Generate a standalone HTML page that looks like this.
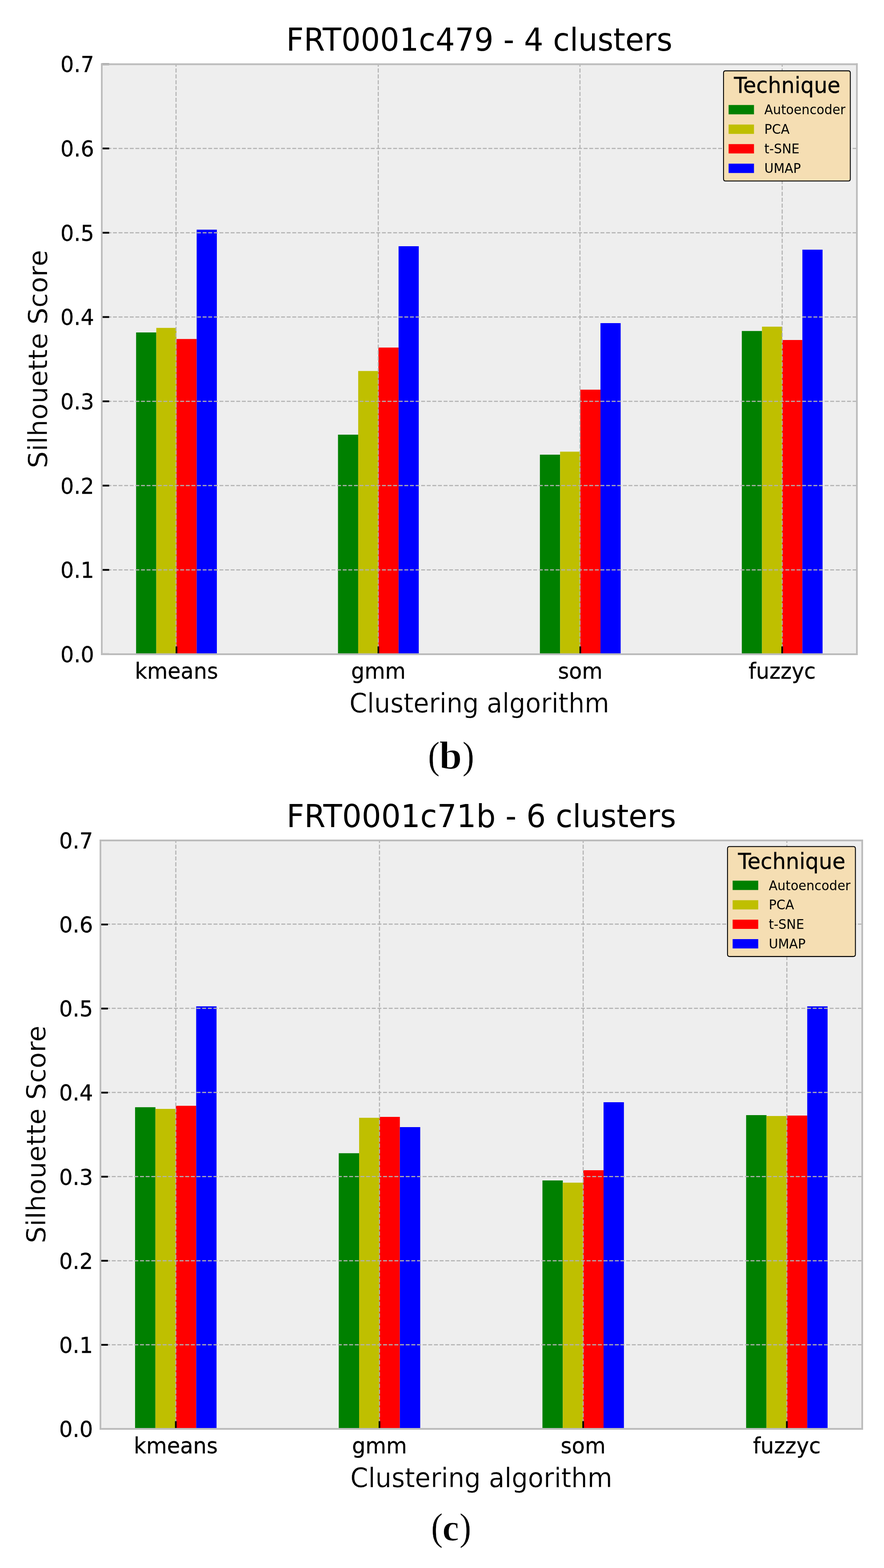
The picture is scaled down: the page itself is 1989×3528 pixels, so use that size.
<!DOCTYPE html>
<html lang="en">
<head>
<meta charset="utf-8">
<title>Silhouette Score by clustering algorithm</title>
<style>
html,body{margin:0;padding:0;background:#ffffff;}
body{width:1989px;height:3528px;overflow:hidden;}
svg{display:block;}
svg text{font-family:"DejaVu Sans","Liberation Sans",sans-serif;fill:#000000;}
svg text.al{stroke:#ffffff;stroke-width:0.4px;}
svg text.tk{stroke:#000000;stroke-width:0.35px;}
svg text.cap{font-family:"Liberation Serif","DejaVu Serif",serif;}
</style>
</head>
<body>
<svg width="1989" height="3528" viewBox="0 0 1989 3528">
<rect x="0" y="0" width="1989" height="3528" fill="#ffffff"/>
<g transform="translate(-45.032 -62.483) scale(4.75750 4.98850)">
<path d="M 57.6 307.584 L 414.72 307.584 L 414.72 41.472 L 57.6 41.472 z" fill="#eeeeee"/>
<path d="M 73.833 307.584 L 83.381 307.584 L 83.381 162.477 L 73.833 162.477 z" fill="#008000"/>
<path d="M 169.319 307.584 L 178.868 307.584 L 178.868 208.59 L 169.319 208.59 z" fill="#008000"/>
<path d="M 264.806 307.584 L 274.355 307.584 L 274.355 217.6 L 264.806 217.6 z" fill="#008000"/>
<path d="M 360.293 307.584 L 369.841 307.584 L 369.841 161.831 L 360.293 161.831 z" fill="#008000"/>
<path d="M 83.381 307.584 L 92.93 307.584 L 92.93 160.424 L 83.381 160.424 z" fill="#bfbf00"/>
<path d="M 178.868 307.584 L 188.417 307.584 L 188.417 179.85 L 178.868 179.85 z" fill="#bfbf00"/>
<path d="M 274.355 307.584 L 283.903 307.584 L 283.903 216.232 L 274.355 216.232 z" fill="#bfbf00"/>
<path d="M 369.841 307.584 L 379.39 307.584 L 379.39 159.854 L 369.841 159.854 z" fill="#bfbf00"/>
<path d="M 92.93 307.584 L 102.479 307.584 L 102.479 165.442 L 92.93 165.442 z" fill="#ff0000"/>
<path d="M 188.417 307.584 L 197.965 307.584 L 197.965 169.282 L 188.417 169.282 z" fill="#ff0000"/>
<path d="M 283.903 307.584 L 293.452 307.584 L 293.452 188.29 L 283.903 188.29 z" fill="#ff0000"/>
<path d="M 379.39 307.584 L 388.939 307.584 L 388.939 165.86 L 379.39 165.86 z" fill="#ff0000"/>
<path d="M 102.479 307.584 L 112.027 307.584 L 112.027 116.135 L 102.479 116.135 z" fill="#0000ff"/>
<path d="M 197.965 307.584 L 207.514 307.584 L 207.514 123.587 L 197.965 123.587 z" fill="#0000ff"/>
<path d="M 293.452 307.584 L 303.001 307.584 L 303.001 158.257 L 293.452 158.257 z" fill="#0000ff"/>
<path d="M 388.939 307.584 L 398.487 307.584 L 398.487 125.145 L 388.939 125.145 z" fill="#0000ff"/>
<path d="M 92.93 307.584 L 92.93 41.472" fill="none" stroke="#b2b2b2" stroke-width="0.5" stroke-dasharray="1.85,0.8" transform="translate(-0.21 0)"/>
<path d="M 0 0 L 0 -3.5" fill="#000000" stroke="#000000" stroke-width="0.8" transform="translate(92.93 307.584)"/>
<path d="M 188.417 307.584 L 188.417 41.472" fill="none" stroke="#b2b2b2" stroke-width="0.5" stroke-dasharray="1.85,0.8" transform="translate(-0.063 0)"/>
<path d="M 0 0 L 0 -3.5" fill="#000000" stroke="#000000" stroke-width="0.8" transform="translate(188.417 307.584)"/>
<path d="M 283.903 307.584 L 283.903 41.472" fill="none" stroke="#b2b2b2" stroke-width="0.5" stroke-dasharray="1.85,0.8" transform="translate(-0.147 0)"/>
<path d="M 0 0 L 0 -3.5" fill="#000000" stroke="#000000" stroke-width="0.8" transform="translate(283.903 307.584)"/>
<path d="M 379.39 307.584 L 379.39 41.472" fill="none" stroke="#b2b2b2" stroke-width="0.5" stroke-dasharray="1.85,0.8"/>
<path d="M 0 0 L 0 -3.5" fill="#000000" stroke="#000000" stroke-width="0.8" transform="translate(379.39 307.584)"/>
<path d="M 57.6 307.584 L 414.72 307.584" fill="none" stroke="#b2b2b2" stroke-width="0.5" stroke-dasharray="1.85,0.8"/>
<path d="M 0 0 L 3.5 0" fill="#000000" stroke="#000000" stroke-width="0.8" transform="translate(57.6 307.584)"/>
<path d="M 57.6 269.568 L 414.72 269.568" fill="none" stroke="#b2b2b2" stroke-width="0.5" stroke-dasharray="1.85,0.8"/>
<path d="M 0 0 L 3.5 0" fill="#000000" stroke="#000000" stroke-width="0.8" transform="translate(57.6 269.568)"/>
<path d="M 57.6 231.552 L 414.72 231.552" fill="none" stroke="#b2b2b2" stroke-width="0.5" stroke-dasharray="1.85,0.8"/>
<path d="M 0 0 L 3.5 0" fill="#000000" stroke="#000000" stroke-width="0.8" transform="translate(57.6 231.552)"/>
<path d="M 57.6 193.536 L 414.72 193.536" fill="none" stroke="#b2b2b2" stroke-width="0.5" stroke-dasharray="1.85,0.8"/>
<path d="M 0 0 L 3.5 0" fill="#000000" stroke="#000000" stroke-width="0.8" transform="translate(57.6 193.536)"/>
<path d="M 57.6 155.52 L 414.72 155.52" fill="none" stroke="#b2b2b2" stroke-width="0.5" stroke-dasharray="1.85,0.8"/>
<path d="M 0 0 L 3.5 0" fill="#000000" stroke="#000000" stroke-width="0.8" transform="translate(57.6 155.52)"/>
<path d="M 57.6 117.504 L 414.72 117.504" fill="none" stroke="#b2b2b2" stroke-width="0.5" stroke-dasharray="1.85,0.8"/>
<path d="M 0 0 L 3.5 0" fill="#000000" stroke="#000000" stroke-width="0.8" transform="translate(57.6 117.504)"/>
<path d="M 57.6 79.488 L 414.72 79.488" fill="none" stroke="#b2b2b2" stroke-width="0.5" stroke-dasharray="1.85,0.8"/>
<path d="M 0 0 L 3.5 0" fill="#000000" stroke="#000000" stroke-width="0.8" transform="translate(57.6 79.488)"/>
<path d="M 57.6 41.472 L 414.72 41.472" fill="none" stroke="#b2b2b2" stroke-width="0.5" stroke-dasharray="1.85,0.8"/>
<path d="M 0 0 L 3.5 0" fill="#000000" stroke="#000000" stroke-width="0.8" transform="translate(57.6 41.472)"/>
<path d="M 57.6 307.584 L 57.6 41.472" fill="none" stroke="#bcbcbc" stroke-width="0.8" stroke-linecap="square" stroke-linejoin="miter"/>
<path d="M 414.72 307.584 L 414.72 41.472" fill="none" stroke="#bcbcbc" stroke-width="0.8" stroke-linecap="square" stroke-linejoin="miter"/>
<path d="M 57.6 307.584 L 414.72 307.584" fill="none" stroke="#bcbcbc" stroke-width="0.8" stroke-linecap="square" stroke-linejoin="miter"/>
<path d="M 57.6 41.472 L 414.72 41.472" fill="none" stroke="#bcbcbc" stroke-width="0.8" stroke-linecap="square" stroke-linejoin="miter"/>
<path d="M 352.717 94.178 L 410.76 94.178 Q 411.72 94.178 411.72 93.218 L 411.72 45.432 Q 411.72 44.472 410.76 44.472 L 352.717 44.472 Q 351.757 44.472 351.757 45.432 L 351.757 93.218 Q 351.757 94.178 352.717 94.178 z" fill="#f5deb3" stroke="#000000" stroke-width="0.42" stroke-linejoin="miter" transform="translate(-0.105 0)"/>
<path d="M 354.158 64.109 L 366.158 64.109 L 366.158 59.909 L 354.158 59.909 z" fill="#008000" transform="translate(-0.105 0)"/>
<path d="M 354.158 72.916 L 366.158 72.916 L 366.158 68.716 L 354.158 68.716 z" fill="#bfbf00" transform="translate(-0.105 0)"/>
<path d="M 354.158 81.723 L 366.158 81.723 L 366.158 77.523 L 354.158 77.523 z" fill="#ff0000" transform="translate(-0.105 0)"/>
<path d="M 354.158 90.53 L 366.158 90.53 L 366.158 86.33 L 354.158 86.33 z" fill="#0000ff" transform="translate(-0.105 0)"/>
</g>
<text transform="translate(397.083 1527.265) scale(1 1.0486)" font-size="47.575" text-anchor="middle" class="tk">kmeans</text>
<text transform="translate(851.361 1527.265) scale(1 1.0486)" font-size="47.575" text-anchor="middle" class="tk">gmm</text>
<text transform="translate(1305.639 1527.265) scale(1 1.0486)" font-size="47.575" text-anchor="middle" class="tk">som</text>
<text transform="translate(1759.917 1527.265) scale(1 1.0486)" font-size="47.575" text-anchor="middle" class="tk">fuzzyc</text>
<text transform="translate(1078.5 1603.079) scale(1 1.0486)" font-size="57.09" text-anchor="middle" class="al">Clustering algorithm</text>
<text transform="translate(211.649 1489.852) scale(1 1.0486)" font-size="47.575" text-anchor="end" class="tk">0.0</text>
<text transform="translate(211.649 1300.21) scale(1 1.0486)" font-size="47.575" text-anchor="end" class="tk">0.1</text>
<text transform="translate(211.649 1110.567) scale(1 1.0486)" font-size="47.575" text-anchor="end" class="tk">0.2</text>
<text transform="translate(211.649 920.924) scale(1 1.0486)" font-size="47.575" text-anchor="end" class="tk">0.3</text>
<text transform="translate(211.649 731.281) scale(1 1.0486)" font-size="47.575" text-anchor="end" class="tk">0.4</text>
<text transform="translate(211.649 541.638) scale(1 1.0486)" font-size="47.575" text-anchor="end" class="tk">0.5</text>
<text transform="translate(211.649 351.995) scale(1 1.0486)" font-size="47.575" text-anchor="end" class="tk">0.6</text>
<text transform="translate(211.649 162.352) scale(1 1.0486)" font-size="47.575" text-anchor="end" class="tk">0.7</text>
<text transform="translate(106.187 808) scale(1 1.0320) rotate(-90)" font-size="58.003" text-anchor="middle" class="al">Silhouette Score</text>
<text transform="translate(1078.5 114.469) scale(1 1.0486)" font-size="68.508" text-anchor="middle">FRT0001c479 - 4 clusters</text>
<text transform="translate(1651.318 209.243) scale(1 1.0486)" font-size="47.575" class="tk">Technique</text>
<text transform="translate(1719.8 257.326) scale(1 1.0486)" font-size="28.545">Autoencoder</text>
<text transform="translate(1719.8 301.259) scale(1 1.0486)" font-size="28.545">PCA</text>
<text transform="translate(1719.8 345.192) scale(1 1.0486)" font-size="28.545">t-SNE</text>
<text transform="translate(1719.8 389.125) scale(1 1.0486)" font-size="28.545">UMAP</text>
<g transform="translate(-50.452 1684.662) scale(4.79951 4.97535)">
<path d="M 57.6 307.584 L 414.72 307.584 L 414.72 41.472 L 57.6 41.472 z" fill="#eeeeee"/>
<path d="M 73.833 307.584 L 83.381 307.584 L 83.381 162.097 L 73.833 162.097 z" fill="#008000"/>
<path d="M 169.319 307.584 L 178.868 307.584 L 178.868 182.93 L 169.319 182.93 z" fill="#008000"/>
<path d="M 264.806 307.584 L 274.355 307.584 L 274.355 195.247 L 264.806 195.247 z" fill="#008000"/>
<path d="M 360.293 307.584 L 369.841 307.584 L 369.841 165.708 L 360.293 165.708 z" fill="#008000"/>
<path d="M 83.381 307.584 L 92.93 307.584 L 92.93 162.857 L 83.381 162.857 z" fill="#bfbf00"/>
<path d="M 178.868 307.584 L 188.417 307.584 L 188.417 166.887 L 178.868 166.887 z" fill="#bfbf00"/>
<path d="M 274.355 307.584 L 283.903 307.584 L 283.903 196.235 L 274.355 196.235 z" fill="#bfbf00"/>
<path d="M 369.841 307.584 L 379.39 307.584 L 379.39 166.088 L 369.841 166.088 z" fill="#bfbf00"/>
<path d="M 92.93 307.584 L 102.479 307.584 L 102.479 161.45 L 92.93 161.45 z" fill="#ff0000"/>
<path d="M 188.417 307.584 L 197.965 307.584 L 197.965 166.507 L 188.417 166.507 z" fill="#ff0000"/>
<path d="M 283.903 307.584 L 293.452 307.584 L 293.452 190.609 L 283.903 190.609 z" fill="#ff0000"/>
<path d="M 379.39 307.584 L 388.939 307.584 L 388.939 165.898 L 379.39 165.898 z" fill="#ff0000"/>
<path d="M 102.479 307.584 L 112.027 307.584 L 112.027 116.478 L 102.479 116.478 z" fill="#0000ff"/>
<path d="M 197.965 307.584 L 207.514 307.584 L 207.514 171.107 L 197.965 171.107 z" fill="#0000ff"/>
<path d="M 293.452 307.584 L 303.001 307.584 L 303.001 159.854 L 293.452 159.854 z" fill="#0000ff"/>
<path d="M 388.939 307.584 L 398.487 307.584 L 398.487 116.478 L 388.939 116.478 z" fill="#0000ff"/>
<path d="M 92.93 307.584 L 92.93 41.472" fill="none" stroke="#b2b2b2" stroke-width="0.5" stroke-dasharray="1.85,0.8"/>
<path d="M 0 0 L 0 -3.5" fill="#000000" stroke="#000000" stroke-width="0.8" transform="translate(92.93 307.584)"/>
<path d="M 188.417 307.584 L 188.417 41.472" fill="none" stroke="#b2b2b2" stroke-width="0.5" stroke-dasharray="1.85,0.8"/>
<path d="M 0 0 L 0 -3.5" fill="#000000" stroke="#000000" stroke-width="0.8" transform="translate(188.417 307.584)"/>
<path d="M 283.903 307.584 L 283.903 41.472" fill="none" stroke="#b2b2b2" stroke-width="0.5" stroke-dasharray="1.85,0.8"/>
<path d="M 0 0 L 0 -3.5" fill="#000000" stroke="#000000" stroke-width="0.8" transform="translate(283.903 307.584)"/>
<path d="M 379.39 307.584 L 379.39 41.472" fill="none" stroke="#b2b2b2" stroke-width="0.5" stroke-dasharray="1.85,0.8"/>
<path d="M 0 0 L 0 -3.5" fill="#000000" stroke="#000000" stroke-width="0.8" transform="translate(379.39 307.584)"/>
<path d="M 57.6 307.584 L 414.72 307.584" fill="none" stroke="#b2b2b2" stroke-width="0.5" stroke-dasharray="1.85,0.8"/>
<path d="M 0 0 L 3.5 0" fill="#000000" stroke="#000000" stroke-width="0.8" transform="translate(57.6 307.584)"/>
<path d="M 57.6 269.568 L 414.72 269.568" fill="none" stroke="#b2b2b2" stroke-width="0.5" stroke-dasharray="1.85,0.8"/>
<path d="M 0 0 L 3.5 0" fill="#000000" stroke="#000000" stroke-width="0.8" transform="translate(57.6 269.568)"/>
<path d="M 57.6 231.552 L 414.72 231.552" fill="none" stroke="#b2b2b2" stroke-width="0.5" stroke-dasharray="1.85,0.8"/>
<path d="M 0 0 L 3.5 0" fill="#000000" stroke="#000000" stroke-width="0.8" transform="translate(57.6 231.552)"/>
<path d="M 57.6 193.536 L 414.72 193.536" fill="none" stroke="#b2b2b2" stroke-width="0.5" stroke-dasharray="1.85,0.8" transform="translate(0 -0.06)"/>
<path d="M 0 0 L 3.5 0" fill="#000000" stroke="#000000" stroke-width="0.8" transform="translate(57.6 193.536)"/>
<path d="M 57.6 155.52 L 414.72 155.52" fill="none" stroke="#b2b2b2" stroke-width="0.5" stroke-dasharray="1.85,0.8" transform="translate(0 -0.08)"/>
<path d="M 0 0 L 3.5 0" fill="#000000" stroke="#000000" stroke-width="0.8" transform="translate(57.6 155.52)"/>
<path d="M 57.6 117.504 L 414.72 117.504" fill="none" stroke="#b2b2b2" stroke-width="0.5" stroke-dasharray="1.85,0.8" transform="translate(0 -0.1)"/>
<path d="M 0 0 L 3.5 0" fill="#000000" stroke="#000000" stroke-width="0.8" transform="translate(57.6 117.504)"/>
<path d="M 57.6 79.488 L 414.72 79.488" fill="none" stroke="#b2b2b2" stroke-width="0.5" stroke-dasharray="1.85,0.8" transform="translate(0 -0.161)"/>
<path d="M 0 0 L 3.5 0" fill="#000000" stroke="#000000" stroke-width="0.8" transform="translate(57.6 79.488)"/>
<path d="M 57.6 41.472 L 414.72 41.472" fill="none" stroke="#b2b2b2" stroke-width="0.5" stroke-dasharray="1.85,0.8"/>
<path d="M 0 0 L 3.5 0" fill="#000000" stroke="#000000" stroke-width="0.8" transform="translate(57.6 41.472)"/>
<path d="M 57.6 307.584 L 57.6 41.472" fill="none" stroke="#bcbcbc" stroke-width="0.8" stroke-linecap="square" stroke-linejoin="miter"/>
<path d="M 414.72 307.584 L 414.72 41.472" fill="none" stroke="#bcbcbc" stroke-width="0.8" stroke-linecap="square" stroke-linejoin="miter"/>
<path d="M 57.6 307.584 L 414.72 307.584" fill="none" stroke="#bcbcbc" stroke-width="0.8" stroke-linecap="square" stroke-linejoin="miter"/>
<path d="M 57.6 41.472 L 414.72 41.472" fill="none" stroke="#bcbcbc" stroke-width="0.8" stroke-linecap="square" stroke-linejoin="miter"/>
<path d="M 352.717 94.178 L 410.76 94.178 Q 411.72 94.178 411.72 93.218 L 411.72 45.432 Q 411.72 44.472 410.76 44.472 L 352.717 44.472 Q 351.757 44.472 351.757 45.432 L 351.757 93.218 Q 351.757 94.178 352.717 94.178 z" fill="#f5deb3" stroke="#000000" stroke-width="0.42" stroke-linejoin="miter" transform="translate(-0.188 -0.231)"/>
<path d="M 354.158 64.109 L 366.158 64.109 L 366.158 59.909 L 354.158 59.909 z" fill="#008000" transform="translate(-0.188 -0.231)"/>
<path d="M 354.158 72.916 L 366.158 72.916 L 366.158 68.716 L 354.158 68.716 z" fill="#bfbf00" transform="translate(-0.188 -0.231)"/>
<path d="M 354.158 81.723 L 366.158 81.723 L 366.158 77.523 L 354.158 77.523 z" fill="#ff0000" transform="translate(-0.188 -0.231)"/>
<path d="M 354.158 90.53 L 366.158 90.53 L 366.158 86.33 L 354.158 86.33 z" fill="#0000ff" transform="translate(-0.188 -0.231)"/>
</g>
<text transform="translate(395.567 3270.219) scale(1 1.0366)" font-size="47.995" text-anchor="middle" class="tk">kmeans</text>
<text transform="translate(853.856 3270.219) scale(1 1.0366)" font-size="47.995" text-anchor="middle" class="tk">gmm</text>
<text transform="translate(1312.144 3270.219) scale(1 1.0366)" font-size="47.995" text-anchor="middle" class="tk">som</text>
<text transform="translate(1770.433 3270.219) scale(1 1.0366)" font-size="47.995" text-anchor="middle" class="tk">fuzzyc</text>
<text transform="translate(1083 3345.833) scale(1 1.0366)" font-size="57.594" text-anchor="middle" class="al">Clustering algorithm</text>
<text transform="translate(209.302 3233.002) scale(1 1.0418)" font-size="47.995" text-anchor="end" class="tk">0.0</text>
<text transform="translate(209.302 3043.86) scale(1 1.0418)" font-size="47.995" text-anchor="end" class="tk">0.1</text>
<text transform="translate(209.302 2854.717) scale(1 1.0418)" font-size="47.995" text-anchor="end" class="tk">0.2</text>
<text transform="translate(209.302 2665.574) scale(1 1.0418)" font-size="47.995" text-anchor="end" class="tk">0.3</text>
<text transform="translate(209.302 2476.431) scale(1 1.0418)" font-size="47.995" text-anchor="end" class="tk">0.4</text>
<text transform="translate(209.302 2287.288) scale(1 1.0418)" font-size="47.995" text-anchor="end" class="tk">0.5</text>
<text transform="translate(209.302 2098.145) scale(1 1.0418)" font-size="47.995" text-anchor="end" class="tk">0.6</text>
<text transform="translate(209.302 1909.002) scale(1 1.0418)" font-size="47.995" text-anchor="end" class="tk">0.7</text>
<text transform="translate(101.999 2552.4) scale(1 1.0203) rotate(-90)" font-size="58.516" text-anchor="middle" class="al">Silhouette Score</text>
<text transform="translate(1083 1861.148) scale(1 1.0366)" font-size="69.113" text-anchor="middle">FRT0001c71b - 6 clusters</text>
<text transform="translate(1660.575 1954.672) scale(1 1.0366)" font-size="47.995" class="tk">Technique</text>
<text transform="translate(1729.662 2002.628) scale(1 1.0366)" font-size="28.797">Autoencoder</text>
<text transform="translate(1729.662 2046.445) scale(1 1.0366)" font-size="28.797">PCA</text>
<text transform="translate(1729.662 2090.262) scale(1 1.0366)" font-size="28.797">t-SNE</text>
<text transform="translate(1729.662 2134.08) scale(1 1.0366)" font-size="28.797">UMAP</text>
<text class="cap"><tspan x="963.11" y="1728.54" font-size="86.243" textLength="26.45" lengthAdjust="spacingAndGlyphs" stroke="#ffffff" stroke-width="0.4">(</tspan><tspan x="988.234" y="1730.134" font-size="88.685" textLength="51.089" lengthAdjust="spacingAndGlyphs" font-weight="bold" stroke="#ffffff" stroke-width="1.2">b</tspan><tspan x="1040.54" y="1728.54" font-size="86.243" textLength="26.45" lengthAdjust="spacingAndGlyphs" stroke="#ffffff" stroke-width="0.4">)</tspan></text>
<text class="cap"><tspan x="970.01" y="3464.51" font-size="85.912" textLength="26.45" lengthAdjust="spacingAndGlyphs" stroke="#ffffff" stroke-width="0.4">(</tspan><tspan x="995.304" y="3465.708" font-size="85.333" textLength="37.606" lengthAdjust="spacingAndGlyphs" font-weight="bold" stroke="#ffffff" stroke-width="1.2">c</tspan><tspan x="1033.64" y="3464.51" font-size="85.912" textLength="26.45" lengthAdjust="spacingAndGlyphs" stroke="#ffffff" stroke-width="0.4">)</tspan></text>
</svg>
</body>
</html>
